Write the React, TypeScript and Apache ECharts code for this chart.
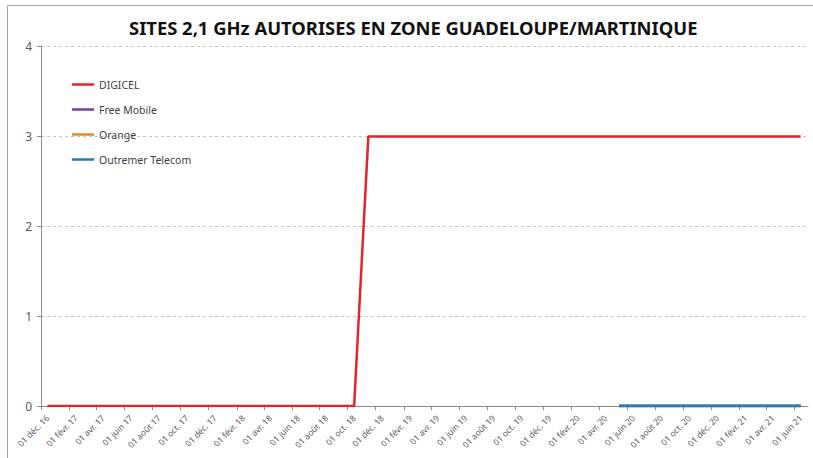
import React, { useEffect, useRef } from "react";
import * as echarts from "echarts";

const title = "SITES 2,1 GHz AUTORISES EN ZONE GUADELOUPE/MARTINIQUE";
const seriesNames = ["DIGICEL", "Free Mobile", "Orange", "Outremer Telecom"];
const seriesColors = ["#e3232b", "#7a3fa0", "#e08a2c", "#2a78b5"];

const months = [
  "2016-12-15",
  "2017-01-15", "2017-02-15", "2017-03-15", "2017-04-15", "2017-05-15", "2017-06-15",
  "2017-07-15", "2017-08-15", "2017-09-15", "2017-10-15", "2017-11-15", "2017-12-15",
  "2018-01-15", "2018-02-15", "2018-03-15", "2018-04-15", "2018-05-15", "2018-06-15",
  "2018-07-15", "2018-08-15", "2018-09-15", "2018-10-15", "2018-11-15", "2018-12-15",
  "2019-01-15", "2019-02-15", "2019-03-15", "2019-04-15", "2019-05-15", "2019-06-15",
  "2019-07-15", "2019-08-15", "2019-09-15", "2019-10-15", "2019-11-15", "2019-12-15",
  "2020-01-15", "2020-02-15", "2020-03-15", "2020-04-15", "2020-05-15", "2020-06-15",
  "2020-07-15", "2020-08-15", "2020-09-15", "2020-10-15", "2020-11-15", "2020-12-15",
  "2021-01-15", "2021-02-15", "2021-03-15", "2021-04-15", "2021-05-15", "2021-06-15",
];

const digicel = [
  0,
  0, 0, 0, 0, 0, 0, 0, 0, 0, 0, 0, 0,
  0, 0, 0, 0, 0, 0, 0, 0, 0, 0, 3, 3,
  3, 3, 3, 3, 3, 3, 3, 3, 3, 3, 3, 3,
  3, 3, 3, 3, 3, 3, 3, 3, 3, 3, 3, 3,
  3, 3, 3, 3, 3, 3,
];

const freeMobile = [
  null,
  null, null, null, null, null, null, null, null, null, null, null, null,
  null, null, null, null, null, null, null, null, null, null, null, null,
  null, null, null, null, null, null, null, null, null, null, null, null,
  null, null, null, null, 0, 0, 0, 0, 0, 0, 0, 0,
  0, 0, 0, 0, 0, 0,
];

const orange = [
  null,
  null, null, null, null, null, null, null, null, null, null, null, null,
  null, null, null, null, null, null, null, null, null, null, null, null,
  null, null, null, null, null, null, null, null, null, null, null, null,
  null, null, null, null, 0, 0, 0, 0, 0, 0, 0, 0,
  0, 0, 0, 0, 0, 0,
];

const outremer = [
  null,
  null, null, null, null, null, null, null, null, null, null, null, null,
  null, null, null, null, null, null, null, null, null, null, null, null,
  null, null, null, null, null, null, null, null, null, null, null, null,
  null, null, null, null, 0, 0, 0, 0, 0, 0, 0, 0,
  0, 0, 0, 0, 0, 0,
];

const tickDates = [
  "2016-12-01", "2017-02-01", "2017-04-01", "2017-06-01", "2017-08-01", "2017-10-01",
  "2017-12-01", "2018-02-01", "2018-04-01", "2018-06-01", "2018-08-01", "2018-10-01",
  "2018-12-01", "2019-02-01", "2019-04-01", "2019-06-01", "2019-08-01", "2019-10-01",
  "2019-12-01", "2020-02-01", "2020-04-01", "2020-06-01", "2020-08-01", "2020-10-01",
  "2020-12-01", "2021-02-01", "2021-04-01", "2021-06-01",
];

const monthAbbr = [
  "janv.", "févr.", "mars", "avr.", "mai", "juin",
  "juil.", "août", "sept.", "oct.", "nov.", "déc.",
];

const xMin = "2016-12-01";
const xMax = "2021-07-01";
const yTicks = [0, 1, 2, 3, 4];

const FONT = "Noto Sans";

function fmtDate(v: number): string {
  const d = new Date(v);
  const day = String(d.getUTCDate()).padStart(2, "0");
  const yy = String(d.getUTCFullYear() % 100).padStart(2, "0");
  return day + " " + monthAbbr[d.getUTCMonth()] + " " + yy;
}

export default function App() {
  const ref = useRef<HTMLDivElement>(null);
  useEffect(() => {
    document.body.style.margin = "0";
    if (!ref.current) return;
    const chart = echarts.init(ref.current, null, { renderer: "svg" });
    const allSeries = [digicel, freeMobile, orange, outremer];
    const tickVals = tickDates.map((s) => Date.parse(s));
    chart.setOption({
      animation: false,
      backgroundColor: "#ffffff",
      textStyle: { fontFamily: FONT },
      title: {
        text: title,
        left: 124,
        top: 13,
        textStyle: { fontFamily: FONT, fontSize: 18.4, fontWeight: "bold", color: "#111111" },
      },
      graphic: [
        {
          type: "rect",
          shape: { x: 7.5, y: 5.5, width: 830, height: 470 },
          style: { fill: "none", stroke: "#a6a6a6", lineWidth: 1 },
          silent: true,
        },
      ],
      legend: {
        orient: "vertical",
        left: 67,
        top: 74,
        itemGap: 14,
        itemWidth: 22,
        itemHeight: 14,
        icon: "path://M0,0 L22,0 L22,2.5 L0,2.5 Z",
        data: seriesNames,
        textStyle: { fontFamily: FONT, fontSize: 10.5, color: "#404040" },
      },
      grid: { left: 41, right: 5, top: 46.5, bottom: 52, containLabel: false },
      xAxis: {
        type: "value",
        min: Date.parse(xMin),
        max: Date.parse(xMax),
        axisLine: { show: true, lineStyle: { color: "#8c8c8c", width: 1 } },
        axisTick: { show: true, length: 4, customValues: tickVals, lineStyle: { color: "#8c8c8c" } },
        axisLabel: {
          customValues: tickVals,
          rotate: 45,
          fontSize: 8.5,
          color: "#595959",
          fontFamily: FONT,
          margin: 4,
          verticalAlign: "top",
          lineHeight: 18,
          formatter: (v: number) => fmtDate(v),
        },
        splitLine: { show: false },
      },
      yAxis: {
        type: "value",
        min: yTicks[0],
        max: yTicks[yTicks.length - 1],
        interval: 1,
        axisLine: { show: true, lineStyle: { color: "#8c8c8c", width: 1 } },
        axisTick: { show: true, length: 4, lineStyle: { color: "#8c8c8c" } },
        axisLabel: { fontSize: 12, color: "#595959", fontFamily: FONT, margin: 9 },
        splitLine: { show: true, lineStyle: { color: "#c4c4c4", type: [3, 3], width: 1 } },
      },
      series: seriesNames.map((name, i) => ({
        name,
        type: "line",
        symbol: "none",
        color: seriesColors[i],
        lineStyle: { width: i === 3 ? 3 : 2.5, color: seriesColors[i] },
        connectNulls: false,
        data: months.map((m, j) => [Date.parse(m), allSeries[i][j]]),
      })),
    });
    return () => chart.dispose();
  }, []);
  return <div ref={ref} style={{ width: 813, height: 458 }} />;
}
